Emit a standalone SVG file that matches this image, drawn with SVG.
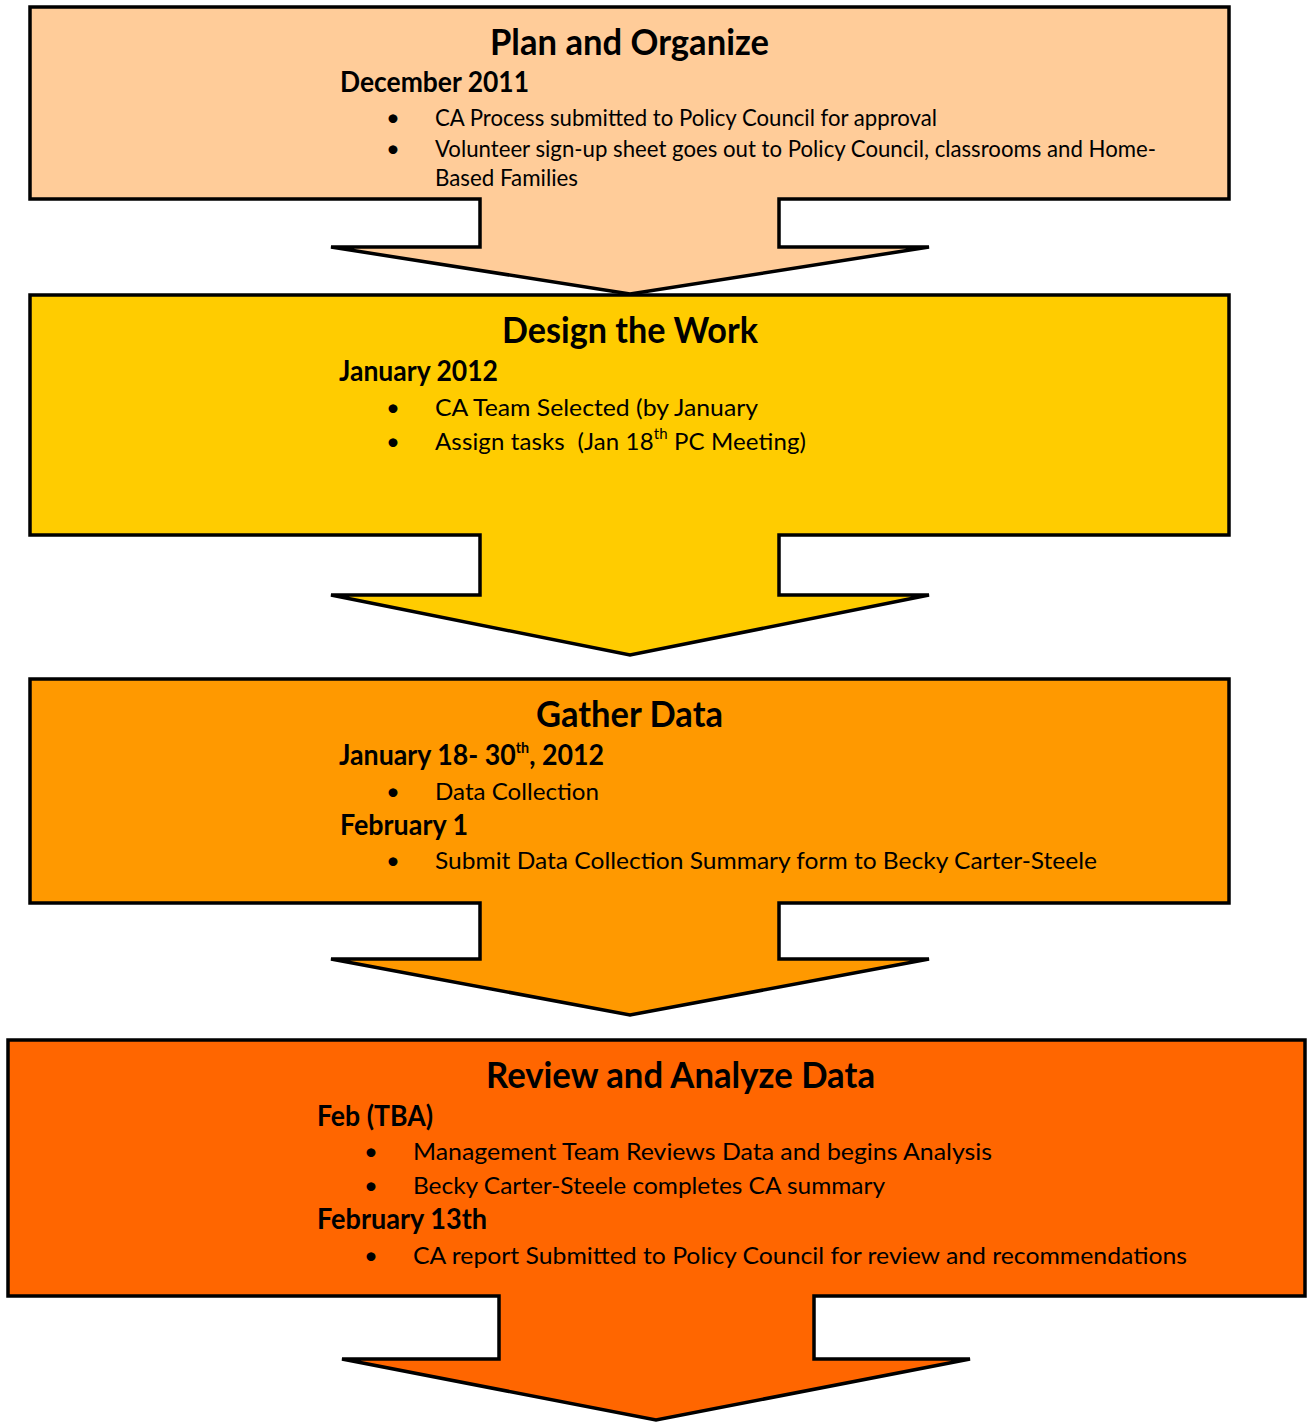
<svg xmlns="http://www.w3.org/2000/svg" width="1307" height="1422" viewBox="0 0 1307 1422">
<style>
.shape{stroke:#000;stroke-width:3.5;stroke-linejoin:miter}
text{font-family:Lato,"Liberation Sans",sans-serif;fill:#000}
.title{font-size:37px;font-weight:bold}
.date{font-size:28px;font-weight:bold}
.item{font-size:24px}
.bul{font-size:24px}
.sup{font-size:15px}
</style>
<rect width="1307" height="1422" fill="#fff"/>
<g id="connectors"></g>
<g id="node-plan">
<path class="shape" fill="#FFCC99" d="M30,7 H1229 V199 H779 V247 H929 L630,294 L331,247 H480 V199 H30 Z"/>
<text class="title" x="490" y="55" textLength="279" lengthAdjust="spacingAndGlyphs">Plan and Organize</text>
<text class="date" x="340" y="92" textLength="189" lengthAdjust="spacingAndGlyphs">December 2011</text>
<text class="bul" x="386" y="126">•</text>
<text class="item" x="435" y="126" textLength="502" lengthAdjust="spacingAndGlyphs">CA Process submitted to Policy Council for approval</text>
<text class="bul" x="386" y="157">•</text>
<text class="item" x="435" y="157" textLength="721" lengthAdjust="spacingAndGlyphs">Volunteer sign-up sheet goes out to Policy Council, classrooms and Home-</text>
<text class="item" x="435" y="186" textLength="143" lengthAdjust="spacingAndGlyphs">Based Families</text>
</g>
<g id="node-design">
<path class="shape" fill="#FFCC00" d="M30,295 H1229 V535 H779 V595 H929 L630,655 L331,595 H480 V535 H30 Z"/>
<text class="title" x="502" y="343" textLength="256" lengthAdjust="spacingAndGlyphs">Design the Work</text>
<text class="date" x="339" y="381" textLength="159" lengthAdjust="spacingAndGlyphs">January 2012</text>
<text class="bul" x="386" y="416">•</text>
<text class="item" x="435" y="416" textLength="323" lengthAdjust="spacingAndGlyphs">CA Team Selected (by January</text>
<text class="bul" x="386" y="450">•</text>
<text class="item" x="435" y="450" xml:space="preserve" textLength="371" lengthAdjust="spacing">Assign tasks  (Jan 18<tspan class="sup" dy="-11">th</tspan><tspan dy="11"> PC Meeting)</tspan></text>
</g>
<g id="node-gather">
<path class="shape" fill="#FF9900" d="M30,679 H1229 V903 H779 V959 H929 L630,1015 L331,959 H480 V903 H30 Z"/>
<text class="title" x="536" y="727" textLength="187" lengthAdjust="spacingAndGlyphs">Gather Data</text>
<text class="date" x="339" y="765" textLength="265" lengthAdjust="spacingAndGlyphs">January 18- 30<tspan class="sup" style="font-weight:bold" dy="-12">th</tspan><tspan dy="12">, 2012</tspan></text>
<text class="bul" x="386" y="800">•</text>
<text class="item" x="435" y="800" textLength="164" lengthAdjust="spacingAndGlyphs">Data Collection</text>
<text class="date" x="340" y="835" textLength="128" lengthAdjust="spacingAndGlyphs">February 1</text>
<text class="bul" x="386" y="869">•</text>
<text class="item" x="435" y="869" textLength="662" lengthAdjust="spacingAndGlyphs">Submit Data Collection Summary form to Becky Carter-Steele</text>
</g>
<g id="node-review">
<path class="shape" fill="#FF6600" d="M8,1040 H1305 V1296 H814 V1359 H970 L656,1420 L342,1359 H499 V1296 H8 Z"/>
<text class="title" x="486" y="1088" textLength="389" lengthAdjust="spacingAndGlyphs">Review and Analyze Data</text>
<text class="date" x="317" y="1126" textLength="116" lengthAdjust="spacingAndGlyphs">Feb (TBA)</text>
<text class="bul" x="364" y="1160">•</text>
<text class="item" x="413" y="1160" textLength="579" lengthAdjust="spacingAndGlyphs">Management Team Reviews Data and begins Analysis</text>
<text class="bul" x="364" y="1194">•</text>
<text class="item" x="413" y="1194" textLength="472" lengthAdjust="spacingAndGlyphs">Becky Carter-Steele completes CA summary</text>
<text class="date" x="317" y="1229" textLength="170" lengthAdjust="spacingAndGlyphs">February 13th</text>
<text class="bul" x="364" y="1264">•</text>
<text class="item" x="413" y="1264" textLength="774" lengthAdjust="spacingAndGlyphs">CA report Submitted to Policy Council for review and recommendations</text>
</g>
</svg>
